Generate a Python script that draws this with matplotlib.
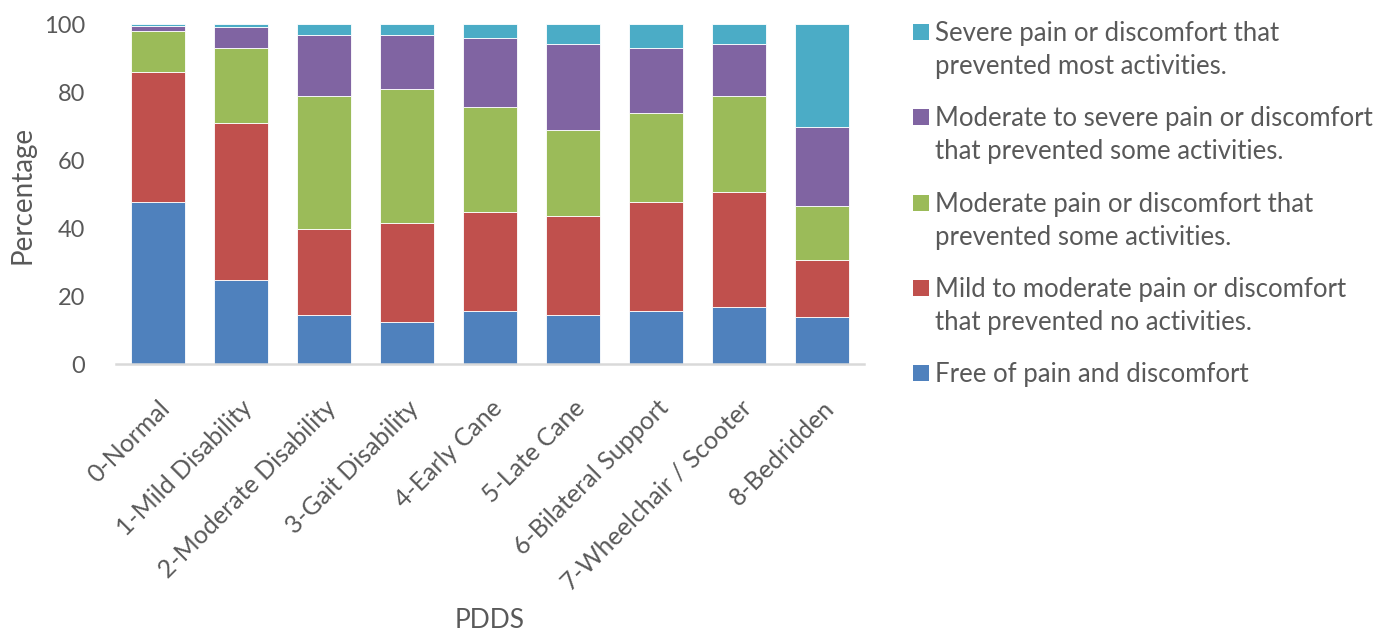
import matplotlib
matplotlib.use("Agg")
import matplotlib.pyplot as plt
from matplotlib.patches import Rectangle
import numpy as np

plt.rcParams["font.family"] = ["Lato", "DejaVu Sans"]

categories = [
    "0-Normal", "1-Mild Disability", "2-Moderate Disability", "3-Gait Disability",
    "4-Early Cane", "5-Late Cane", "6-Bilateral Support",
    "7-Wheelchair / Scooter", "8-Bedridden",
]

free_of_pain = [47.8, 24.8, 14.5, 12.5, 15.6, 14.5, 15.6, 16.8, 13.8]
mild_to_moderate = [38.3, 46.1, 25.2, 29.1, 29.1, 29.2, 32.2, 34.0, 16.8]
moderate = [11.9, 22.1, 39.2, 39.3, 31.1, 25.2, 26.0, 28.1, 16.0]
moderate_to_severe = [1.6, 6.1, 18.0, 16.0, 20.3, 25.2, 19.1, 15.2, 23.3]
severe = [0.4, 0.9, 3.1, 3.1, 3.9, 5.9, 7.1, 5.9, 30.1]

series_labels = [
    "Free of pain and discomfort",
    "Mild to moderate pain or discomfort\nthat prevented no activities.",
    "Moderate pain or discomfort that\nprevented some activities.",
    "Moderate to severe pain or discomfort\nthat prevented some activities.",
    "Severe pain or discomfort that\nprevented most activities.",
]
series_colors = ["#4F81BD", "#C0504D", "#9BBB59", "#8064A2", "#4BACC6"]
y_ticks = [0, 20, 40, 60, 80, 100]

text_color = "#595959"

fig = plt.figure(figsize=(13.9, 6.33), dpi=100)
ax = fig.add_axes([116 / 1390, 1 - 364.3 / 633, (864 - 116) / 1390, 340 / 633])

x = np.arange(len(categories))
series = [free_of_pain, mild_to_moderate, moderate, moderate_to_severe, severe]
bottom = np.zeros(len(categories))
containers = []
for vals, color, label in zip(series, series_colors, series_labels):
    vals = np.asarray(vals)
    bc = ax.bar(x, vals, bottom=bottom, width=0.65, color=color,
                edgecolor="white", linewidth=0.6, label=label, zorder=2)
    containers.append(bc)
    bottom += vals

ax.set_xlim(-0.5, len(categories) - 0.5)
ax.set_ylim(0, 100)
ax.set_yticks(y_ticks)
ax.set_yticklabels([str(t) for t in y_ticks])
ax.set_xticks(x)
ax.set_xticklabels(categories, rotation=45, ha="right", va="top",
                   rotation_mode="anchor", fontsize=18)

for side in ["top", "right", "left"]:
    ax.spines[side].set_visible(False)
ax.spines["bottom"].set_color("#D9D9D9")
ax.spines["bottom"].set_linewidth(1.8)
ax.spines["bottom"].set_zorder(3)

ax.tick_params(axis="both", length=0, colors=text_color)
ax.tick_params(axis="y", pad=22, labelsize=17)
ax.tick_params(axis="x", pad=23)

fig.text(22 / 1390, 1 - 195 / 633, "Percentage", fontsize=20, color=text_color,
         ha="center", va="center", rotation=90)
fig.text(490 / 1390, 1 - 620 / 633, "PDDS", fontsize=19, color=text_color,
         ha="center", va="center")

# Legend, top entry = last stacked series
entry_tops = [32, 117, 203, 288, 373]
for i, (bc, label) in enumerate(zip(containers[::-1], series_labels[::-1])):
    yc = entry_tops[i]
    color = bc.patches[0].get_facecolor()
    fig.patches.append(Rectangle((913 / 1390, 1 - (yc + 8) / 633), 16 / 1390, 16 / 633,
                                 transform=fig.transFigure, facecolor=color,
                                 edgecolor="none"))
    fig.text(935 / 1390, 1 - (yc - 11) / 633, label, fontsize=18.5, color=text_color,
             ha="left", va="top", linespacing=1.42)

fig.savefig("out.png", dpi=100)
